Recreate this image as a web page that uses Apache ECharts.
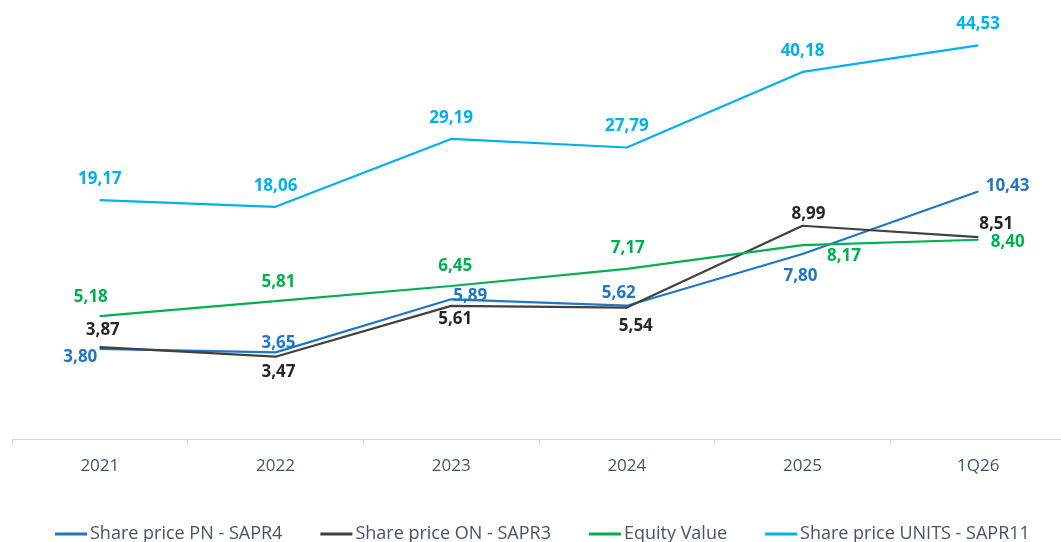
<!DOCTYPE html>
<html>
<head>
<meta charset="utf-8">
<script src="https://cdn.jsdelivr.net/npm/echarts@6/dist/echarts.min.js"></script>
<style>
  * { margin: 0; padding: 0; }
  html, body { width: 1061px; height: 542px; background: #fff; overflow: hidden; }
  #main { width: 1061px; height: 542px; }
</style>
</head>
<body>
<div id="main"></div>
<script>
  // data
  var categories = ['2021', '2022', '2023', '2024', '2025', '1Q26'];
  var sharePN = [3.80, 3.65, 5.89, 5.62, 7.80, 10.43];
  var shareON = [3.87, 3.47, 5.61, 5.54, 8.99, 8.51];
  var equityValue = [5.18, 5.81, 6.45, 7.17, 8.17, 8.40];
  var shareUnits = [19.17, 18.06, 29.19, 27.79, 40.18, 44.53];

  // label placement per point (style only)
  var pnLabels = [
    { position: 'left', distance: 2, offset: [0, 8] },
    { position: 'top', distance: 0, offset: [3, 0] },
    { position: 'top', distance: 0, offset: [19, 6] },
    { position: 'top', distance: 4, offset: [-8, 0] },
    { position: 'bottom', distance: 5, offset: [-2, 8] },
    { position: 'right', distance: 7, offset: [0, -5] }
  ];
  var onLabels = [
    { position: 'top', distance: 8, offset: [3, 0] },
    { position: 'bottom', distance: 6, offset: [3, 0] },
    { position: 'bottom', distance: 4, offset: [4, 0] },
    { position: 'bottom', distance: 10, offset: [9, 0] },
    { position: 'top', distance: 3, offset: [6, 0] },
    { position: 'top', distance: 4, offset: [18, 0] }
  ];
  var eqLabels = [
    { position: 'top', distance: 10, offset: [-9, 0] },
    { position: 'top', distance: 10, offset: [3, 0] },
    { position: 'top', distance: 11, offset: [4, 0] },
    { position: 'top', distance: 12, offset: [1, 0] },
    { position: 'right', distance: 5, offset: [19, 11] },
    { position: 'right', distance: 12, offset: [0, 2] }
  ];

  function fmt(p) {
    return Number(p.value).toFixed(2).replace('.', ',');
  }

  function withLabels(values, places) {
    return values.map(function (v, i) {
      if (!places) return v;
      return { value: v, label: places[i] };
    });
  }

  function lineSeries(name, values, color, labelColor, places, axisIndex) {
    return {
      name: name,
      type: 'line',
      yAxisIndex: axisIndex,
      symbol: 'circle',
      symbolSize: 1,
      showSymbol: true,
      lineStyle: { color: color, width: 2.2 },
      itemStyle: { color: color },
      label: {
        show: true,
        position: 'top',
        distance: 12,
        color: labelColor,
        fontFamily: 'Open Sans',
        fontWeight: 'bold',
        fontSize: 17,
        formatter: fmt
      },
      data: withLabels(values, places)
    };
  }

  var chart = echarts.init(document.getElementById('main'));
  chart.setOption({
    animation: false,
    grid: { left: 12, top: 12, width: 1054, height: 427, outerBoundsMode: 'none' },
    legend: {
      data: ['Share price PN - SAPR4', 'Share price ON - SAPR3', 'Equity Value', 'Share price UNITS - SAPR11'],
      top: 520,
      left: 50,
      icon: 'rect',
      itemWidth: 32,
      itemHeight: 3,
      itemGap: 38,
      textStyle: { color: '#44546A', fontFamily: 'Open Sans', fontSize: 18, padding: [0, 0, 0, -2] }
    },
    xAxis: {
      type: 'category',
      data: categories,
      axisLine: { lineStyle: { color: '#D9D9D9', width: 1 } },
      axisTick: { show: true, length: 7, lineStyle: { color: '#D9D9D9' } },
      axisLabel: { color: '#44546A', fontFamily: 'Open Sans', fontSize: 17, margin: 19 }
    },
    yAxis: [
      { type: 'value', min: 0, max: 18, show: false },
      { type: 'value', min: -20, max: 50, show: false }
    ],
    series: [
      lineSeries('Share price PN - SAPR4', sharePN, '#1F77C4', '#1F77C4', pnLabels, 0),
      lineSeries('Share price ON - SAPR3', shareON, '#404040', '#262626', onLabels, 0),
      lineSeries('Equity Value', equityValue, '#00B050', '#00B050', eqLabels, 0),
      lineSeries('Share price UNITS - SAPR11', shareUnits, '#00B0F0', '#00B0F0', null, 1)
    ]
  });
</script>
</body>
</html>
